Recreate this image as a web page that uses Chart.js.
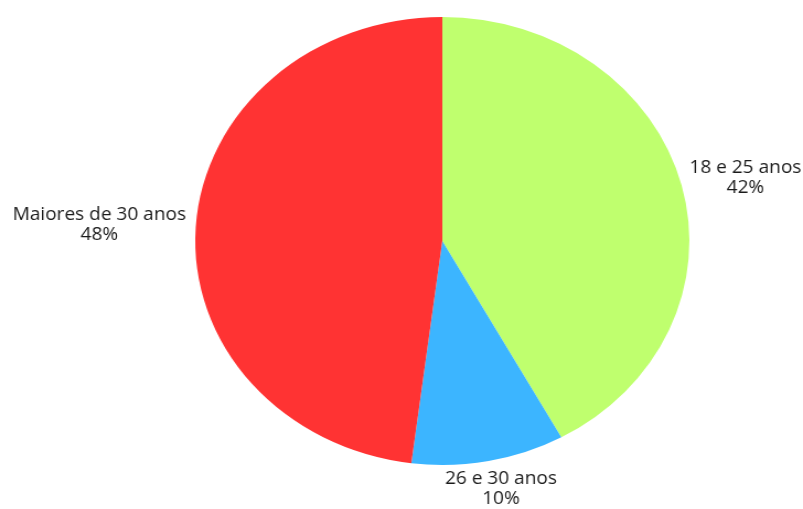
<!DOCTYPE html>
<html>
<head>
<meta charset="utf-8">
<script src="https://cdn.jsdelivr.net/npm/chart.js@4/dist/chart.umd.min.js"></script>
<style>
  html, body { margin: 0; padding: 0; background: #fff; overflow: hidden; }
  #wrap { width: 728px; height: 509px; transform: scaleX(1.103); transform-origin: 0 0; }
</style>
</head>
<body>
<div id="wrap"><canvas id="myChart" width="728" height="509"></canvas></div>
<script>
// faixas etarias
let labels = ['18 e 25 anos', '26 e 30 anos', 'Maiores de 30 anos'];
let values = [42, 10, 48];
let colors = ['#bfff6e', '#3cb5ff', '#ff3333'];

// labels outside the pie, like the original
const outsideLabels = {
    id: 'outsideLabels',
    afterDraw(chart) {
        let ctx = chart.ctx;
        let meta = chart.getDatasetMeta(0);
        let total = values.reduce((a, b) => a + b, 0);
        ctx.save();
        ctx.font = "17.3px 'Open Sans'";
        ctx.fillStyle = '#1a1a1a';
        ctx.textAlign = 'center';
        ctx.textBaseline = 'middle';
        meta.data.forEach((arc, i) => {
            let p = arc.getProps(['x', 'y', 'startAngle', 'endAngle', 'outerRadius'], true);
            let mid = (p.startAngle + p.endAngle) / 2;
            let cos = Math.cos(mid), sin = Math.sin(mid);
            let ax = p.x + cos * p.outerRadius * 1.04;
            let ay = p.y + sin * p.outerRadius * 1.04;
            let lines = [labels[i], Math.round(values[i] / total * 100) + '%'];
            let lh = 20;
            let w = Math.max(...lines.map(l => ctx.measureText(l).width));
            let h = lines.length * lh;
            let cx = ax + cos * w / 2;
            let cy = ay + sin * h / 2;
            lines.forEach((l, j) => {
                ctx.fillText(l, cx, cy - h / 2 + lh / 2 + j * lh);
            });
        });
        ctx.restore();
    }
};

let ctx = document.getElementById('myChart').getContext('2d');
let myChart = new Chart(ctx, {
    type: 'pie',
    data: {
        labels: labels,
        datasets: [{
            data: values,
            backgroundColor: colors,
            borderWidth: 0
        }]
    },
    options: {
        responsive: false,
        animation: false,
        layout: {
            padding: { top: 17, bottom: 44, left: 177, right: 103 }
        },
        plugins: {
            legend: { display: false },
            tooltip: { enabled: false }
        }
    },
    plugins: [outsideLabels]
});
</script>
</body>
</html>
